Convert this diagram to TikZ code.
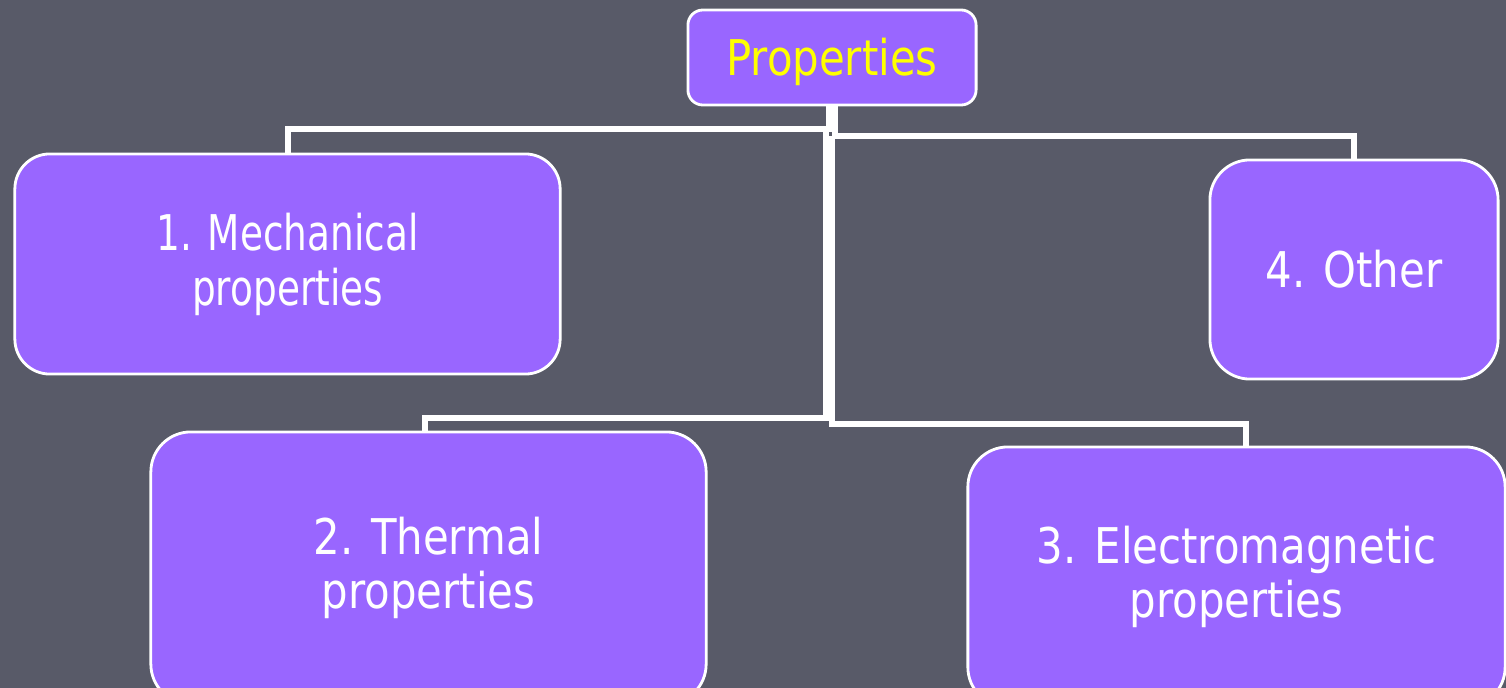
\documentclass[tikz,border=0pt]{standalone}
\usepackage{fontspec}
\setmainfont[FakeStretch=0.85]{DejaVu Sans}
\newfontfamily\narrowsans[FakeStretch=0.76]{DejaVu Sans}
\usepackage{tikz}

\definecolor{slide}{RGB}{88,90,104}
\definecolor{boxfill}{RGB}{153,102,255}
\definecolor{titletext}{RGB}{255,255,0}

\begin{document}
\begin{tikzpicture}[x=0.01cm,y=-0.01cm,
	prop/.style={draw=white, line width=0.8pt, fill=boxfill, text=white, align=center,
		font=\fontsize{14pt}{15.4pt}\selectfont, inner sep=0pt},
	narrow/.style={font=\narrowsans\fontsize{14pt}{15.6pt}\selectfont},
	link/.style={draw=white, line width=0.06cm}]

	\useasboundingbox (0,0) rectangle (1506,688);
	\clip (0,0) rectangle (1506,688);
	\fill[slide] (0,0) rectangle (1506,688);

	\node[prop, minimum width=2.88cm, minimum height=0.95cm, rounded corners=0.15cm, text=titletext,
		text height=0.47cm, text depth=0.12cm] (top) at (832,57.5) {Properties};
	\node[prop, narrow, minimum width=5.45cm, minimum height=2.2cm, rounded corners=0.35cm] (mech) at (287.5,264) {1. Mechanical\\properties};
	\node[prop, minimum width=2.88cm, minimum height=2.19cm, rounded corners=0.4cm] (other) at (1354,269.5) {4. Other};
	\node[prop, minimum width=5.55cm, minimum height=2.72cm, rounded corners=0.4cm] (therm) at (428.5,568) {2. Thermal\\properties};
	\node[prop, minimum width=5.37cm, minimum height=2.6cm, rounded corners=0.4cm] (elec) at (1236.5,577) {3. Electromagnetic\\properties};

	\coordinate (l1) at (826,129);
	\coordinate (l2) at (826,418);
	\coordinate (r1) at (832,136);
	\coordinate (r2) at (832,424);

	\draw[link] ([xshift=-0.03cm]top.south) |- (l1) -| (mech.north);
	\draw[link] (l1) -- (l2) -| ([xshift=-0.035cm]therm.north);
	\draw[link] ([xshift=0.03cm]top.south) |- (r1) -| (other.north);
	\draw[link] (r1) -- (r2) -| ([xshift=0.095cm]elec.north);

\end{tikzpicture}
\end{document}
